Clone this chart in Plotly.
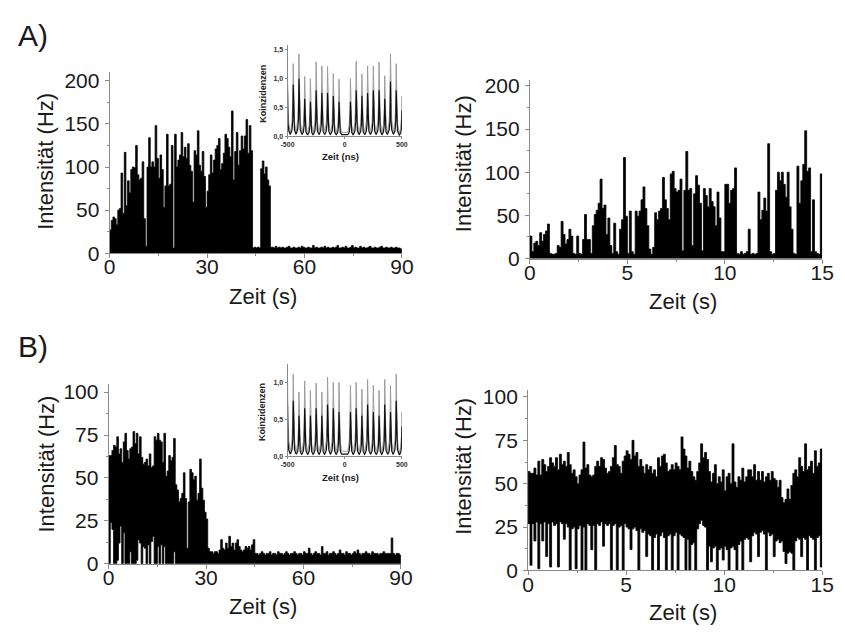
import plotly.graph_objects as go

# ---------------- data ----------------
# A) left: intensity trace, 0.5 s bins, peak value per bin (Hz)
a1_dt = 0.5
a1_peak = [27, 38, 42, 40, 33, 50, 52, 93, 46, 117,
           55, 84, 70, 97, 100, 99, 125, 91, 85, 87,
           106, 40, 8, 100, 134, 100, 106, 100, 148, 110,
           87, 114, 97, 53, 78, 138, 78, 80, 125, 6,
           138, 100, 108, 114, 140, 112, 123, 110, 127, 102,
           95, 59, 119, 114, 142, 102, 95, 118, 89, 53,
           72, 91, 114, 93, 108, 121, 125, 133, 97, 104,
           116, 138, 133, 123, 112, 165, 85, 118, 140, 102,
           119, 136, 121, 136, 155, 116, 148, 119,
           6, 7, 6, 7, 6, 98, 107, 92, 100, 85, 78, 7,
           7, 6, 8, 6, 7, 6, 7, 6, 6, 7,
           8, 6, 6, 7, 6, 6, 7, 6, 8, 7,
           6, 6, 7, 6, 6, 9, 6, 7, 6, 6,
           7, 6, 8, 6, 7, 6, 6, 7, 6, 7,
           9, 6, 6, 7, 6, 8, 6, 6, 7, 9,
           6, 7, 6, 6, 8, 6, 7, 6, 6, 7,
           8, 6, 6, 7, 6, 6, 7, 8, 6, 6,
           7, 6, 6, 7, 6, 6, 7, 6, 6, 5]

# A) right: 0.1 s bins
a2_dt = 0.1
a2_peak = [26, 8, 18, 20, 15, 30, 20, 28, 32, 40,
           6, 5, 5, 6, 15, 13, 43, 28, 17, 22,
           34, 26, 6, 5, 26, 6, 5, 22, 51, 22,
           22, 6, 38, 51, 56, 64, 92, 58, 62, 28,
           47, 15, 6, 41, 8, 5, 34, 45, 117, 49,
           6, 55, 8, 5, 55, 49, 55, 68, 83, 58,
           38, 11, 5, 13, 53, 45, 55, 58, 94, 68,
           58, 45, 98, 101, 81, 77, 79, 92, 9, 79,
           124, 79, 81, 15, 75, 96, 85, 64, 9, 81,
           73, 60, 81, 66, 60, 38, 77, 47, 8, 8,
           86, 86, 64, 79, 81, 105, 6, 5, 8, 5,
           6, 8, 34, 5, 6, 5, 6, 77, 45, 56,
           70, 55, 133, 8, 5, 6, 79, 100, 90, 100,
           86, 71, 100, 60, 34, 6, 5, 107, 64, 90,
           109, 148, 101, 105, 8, 68, 8, 6, 5, 98]

# B) left: 0.5 s bins, peak and trough per bin
b1_dt = 0.5
b1_peak = [63, 63, 66, 69, 68, 74, 64, 67, 59, 71,
           76, 66, 61, 67, 68, 77, 70, 76, 64, 74,
           62, 58, 59, 61, 57, 64, 56, 57, 74, 72,
           76, 72, 71, 59, 76, 51, 54, 63, 60, 62,
           73, 46, 43, 36, 38, 41, 53, 38, 9, 36,
           55, 53, 49, 51, 37, 41, 61, 44, 37, 30,
           26, 9,
           7, 7, 6, 7, 7, 6, 8, 14, 9, 8, 12, 9, 16, 10, 12, 8, 12, 14, 10, 8,
           7, 8, 10, 9, 10, 8, 11, 14, 6,
           6, 5, 6, 7, 6, 5, 6, 6, 7, 5,
           6, 6, 5, 7, 6, 6, 5, 6, 7, 6,
           5, 6, 6, 7, 6, 5, 6, 6, 5, 7,
           6, 6, 9, 6, 5, 6, 7, 6, 6, 5,
           10, 6, 6, 7, 5, 6, 6, 7, 6, 5,
           6, 8, 6, 6, 5, 7, 6, 6, 5, 6,
           7, 6, 8, 6, 5, 6, 6, 7, 6, 6,
           5, 7, 6, 6, 6, 5, 6, 6, 7, 6,
           6, 6, 6, 15, 6, 5, 6, 6, 5]
b1_trough = [0, 24, 20, 0, 0, 2, 12, 22, 0, 18,
             0, 0, 0, 7, 0, 0, 0, 2, 14, 12,
             0, 10, 9, 0, 11, 0, 13, 16, 0, 0,
             10, 0, 11, 0, 10, 0, 0, 0, 0, 0,
             7]

# B) right: 0.1 s bins
b2_dt = 0.1
b2_peak = [57, 56, 56, 59, 55, 63, 55, 64, 61, 57,
           60, 65, 62, 60, 65, 58, 67, 61, 63, 60,
           68, 61, 56, 58, 54, 50, 55, 58, 74, 59,
           61, 55, 54, 55, 60, 63, 60, 65, 64, 59,
           56, 57, 60, 65, 72, 61, 60, 56, 63, 66,
           69, 67, 64, 75, 66, 68, 60, 64, 60, 56,
           61, 58, 60, 56, 58, 54, 65, 60, 66, 67,
           62, 57, 58, 61, 58, 62,
           60, 58, 77, 70, 66, 59, 63, 57, 54, 52,
           57, 62, 73, 65, 68, 64, 57, 51, 56, 61,
           50, 54, 51, 58, 46, 54, 56, 50, 73, 51,
           48, 54, 52, 59, 51, 54, 58, 58, 54, 61,
           52, 57, 52, 57, 51, 54, 56, 52, 57, 53,
           52, 48, 52, 42, 39, 41, 47, 41, 49, 56,
           58, 54, 65, 60, 57, 73, 58, 60, 63, 56,
           69, 60, 62, 70]
b2_trough = [27, 3, 27, 17, 28, 1, 27, 17, 28, 8,
             27, 2, 28, 26, 27, 2, 28, 27, 18, 27,
             25, 0, 24, 25, 1, 24, 26, 0, 25, 0,
             27, 26, 12, 26, 0, 27, 26, 28, 14, 27,
             26, 27, 0, 26, 27, 0, 25, 26, 0, 27,
             25, 24, 12, 24, 25, 23, 0, 24, 22, 23,
             8, 21, 20, 0, 19, 21, 0, 20, 22, 19,
             0, 20, 21, 0, 20, 22, 0, 21, 20, 19,
             0, 18, 0, 15, 16, 0, 24, 27, 29, 26,
             25, 0, 14, 5, 13, 14, 0, 12, 13, 6,
             14, 12, 0, 13, 14, 12, 0, 15, 17, 0,
             18, 19, 18, 5, 20, 22, 21, 8, 22, 23,
             21, 0, 22, 20, 21, 8, 17, 18, 16, 17,
             11, 4, 10, 11, 10, 0, 17, 19, 18, 8,
             19, 18, 0, 20, 19, 18, 0, 19, 20, 2]

# Insets: coincidence histogram peaks (ns) and heights
ins_pos = [-500, -450, -400, -350, -300, -250, -200, -150, -100, -50,
           50, 100, 150, 200, 250, 300, 350, 400, 450, 500]
ins_a_top = [1.10, 1.26, 1.43, 1.04, 1.00, 1.29, 1.22, 1.21, 1.09, 0.99,
             1.00, 1.30, 1.08, 1.22, 1.22, 1.29, 1.05, 1.43, 1.26, 0.70]
ins_a_mid = [0.80, 0.90, 1.00, 0.65, 0.60, 0.80, 0.75, 0.75, 0.70, 0.60,
             0.60, 0.80, 0.70, 0.75, 0.80, 0.80, 0.65, 0.95, 0.80, 0.45]
ins_b_top = [1.10, 1.11, 0.87, 1.02, 0.89, 0.99, 0.87, 1.07, 1.00, 1.00,
             0.96, 1.00, 0.91, 1.04, 0.96, 0.89, 1.04, 0.96, 1.11, 0.60]
ins_b_mid = [0.70, 0.75, 0.55, 0.65, 0.55, 0.65, 0.55, 0.70, 0.65, 0.60,
             0.60, 0.65, 0.55, 0.70, 0.60, 0.55, 0.70, 0.60, 0.75, 0.40]
ins_shape_dt = [-23, -11, -4, 0, 4, 11, 23]
ins_shape_gray = [0.07, 0.2, 0.45, 1.0, 0.45, 0.2, 0.07]
ins_shape_black = [0.05, 0.12, 0.3, 1.0, 0.3, 0.12, 0.05]

FONT = "Liberation Sans, Arial, sans-serif"
AX = "#8a8a8a"
TXT = "#1a1a1a"


# ---------------- helpers ----------------
def step_traces(dt, peak, trough, xa, ya):
    """Filled step band from trough to peak for each time bin."""
    n = len(peak)
    t = [i * dt for i in range(n)] + [n * dt]
    hi = list(peak) + [peak[-1]]
    lo = [trough[i] if (trough is not None and i < len(trough)) else 0 for i in range(n)]
    lo = lo + [lo[-1]]
    common = dict(xaxis=xa, yaxis=ya, mode="lines", line_shape="hv",
                  showlegend=False, hoverinfo="skip")
    lower = go.Scatter(x=t, y=lo, line=dict(color="black", width=0.8), **common)
    upper = go.Scatter(x=t, y=hi, line=dict(color="black", width=0.8),
                       fill="tonexty", fillcolor="black", **common)
    return [lower, upper]


def peaks_line(pos, heights, shape):
    xs, ys = [], []
    for p, hgt in zip(pos, heights):
        for d, f in zip(ins_shape_dt, shape):
            xs.append(p + d)
            ys.append(hgt * f)
    return xs, ys


fig = go.Figure()
for tr in step_traces(a1_dt, a1_peak, None, "x", "y"):
    fig.add_trace(tr)
for tr in step_traces(a2_dt, a2_peak, None, "x2", "y2"):
    fig.add_trace(tr)
for tr in step_traces(b1_dt, b1_peak, b1_trough, "x3", "y3"):
    fig.add_trace(tr)
for tr in step_traces(b2_dt, b2_peak, b2_trough, "x4", "y4"):
    fig.add_trace(tr)

for xa, ya, top, mid in (("x5", "y5", ins_a_top, ins_a_mid), ("x6", "y6", ins_b_top, ins_b_mid)):
    gx, gy = peaks_line(ins_pos, top, ins_shape_gray)
    fig.add_trace(go.Scatter(x=gx, y=gy, xaxis=xa, yaxis=ya, mode="lines",
                             line=dict(color="#9c9c9c", width=1), showlegend=False, hoverinfo="skip"))
    bx, by = peaks_line(ins_pos, mid, ins_shape_black)
    fig.add_trace(go.Scatter(x=bx, y=by, xaxis=xa, yaxis=ya, mode="lines",
                             line=dict(color="#111111", width=1.2), showlegend=False, hoverinfo="skip"))


def main_axis(domain, rng, tickvals, minor_dtick, anchor, is_x):
    d = dict(domain=domain, range=rng, anchor=anchor, showgrid=False, zeroline=False,
             showline=True, linecolor=AX, linewidth=1, ticks="outside", ticklen=4,
             tickwidth=1, tickcolor=AX, tickvals=tickvals,
             tickfont=dict(family=FONT, size=21, color=TXT),
             minor=dict(ticks="outside", ticklen=2, tickcolor=AX, dtick=minor_dtick, showgrid=False))
    d["ticklabelstandoff"] = -9 if is_x else 1
    return d


def inset_axis(domain, rng, tickvals, ticktext, anchor, is_x):
    return dict(domain=domain, range=rng, anchor=anchor, showgrid=False, zeroline=False,
                showline=True, linecolor=AX, linewidth=1, ticks="outside", ticklen=2,
                tickwidth=1, tickcolor=AX, tickvals=tickvals, ticktext=ticktext,
                ticklabelstandoff=-1 if is_x else 0,
                tickfont=dict(family=FONT, size=7, color="#333333", weight="bold"))


x_time90 = [0, 30, 60, 90]
x_time15 = [0, 5, 10, 15]

fig.update_layout(
    width=845, height=635, margin=dict(l=0, r=0, t=0, b=0),
    paper_bgcolor="white", plot_bgcolor="rgba(0,0,0,0)", showlegend=False,
    xaxis=main_axis([0.1243, 0.4781], [0, 90], x_time90, 15, "y", True),
    yaxis=main_axis([0.6000, 0.8929], [0, 210], [0, 50, 100, 150, 200], 25, "x", False),
    xaxis2=main_axis([0.6331, 0.9870], [0, 15], x_time15, 2.5, "y2", True),
    yaxis2=main_axis([0.5913, 0.8803], [0, 206.8], [0, 50, 100, 150, 200], 25, "x2", False),
    xaxis3=main_axis([0.1231, 0.4769], [0, 90], x_time90, 15, "y3", True),
    yaxis3=main_axis([0.0976, 0.3885], [0, 104.8], [0, 25, 50, 75, 100], 12.5, "x3", False),
    xaxis4=main_axis([0.6308, 0.9870], [0, 15], x_time15, 2.5, "y4", True),
    yaxis4=main_axis([0.0866, 0.3780], [0, 103.8], [0, 25, 50, 75, 100], 12.5, "x4", False),
    xaxis5=inset_axis([0.3396, 0.4781], [-500, 500], [-500, 0, 500], ["-500", "0", "500"], "y5", True),
    yaxis5=inset_axis([0.7890, 0.9370], [0, 1.584], [0, 0.5, 1.0, 1.5], ["0,0", "0,5", "1,0", "1,5"], "x5", False),
    xaxis6=inset_axis([0.3396, 0.4781], [-500, 500], [-500, 0, 500], ["-500", "0", "500"], "y6", True),
    yaxis6=inset_axis([0.2713, 0.4200], [0, 1.242], [0, 0.5, 1.0], ["0,0", "0,5", "1,0"], "x6", False),
)


def px(xp, yp):
    return xp / 845.0, 1 - yp / 635.0


ann = []


def add_text(text, xp, yp, size, angle=0, bold=False, color=TXT):
    xx, yy = px(xp, yp)
    ann.append(dict(text=text, x=xx, y=yy, xref="paper", yref="paper", showarrow=False,
                    xanchor="center", yanchor="middle", textangle=angle,
                    font=dict(family=FONT, size=size, color=color, weight="bold" if bold else "normal")))


add_text("A)", 27, 30, 30)
add_text("B)", 27, 350, 30)
add_text("Intensität (Hz)", 40, 160, 22, angle=-90)
add_text("Zeit (s)", 262, 298, 22)
add_text("Intensität (Hz)", 467, 162, 22, angle=-90)
add_text("Zeit (s)", 692, 304, 22)
add_text("Intensität (Hz)", 40, 471, 22, angle=-90)
add_text("Zeit (s)", 262, 617, 22)
add_text("Intensität (Hz)", 467, 473, 22, angle=-90)
add_text("Zeit (s)", 692, 623, 22)
add_text("Koinzidenzen", 261, 90, 9, angle=-90, bold=True, color="#222222")
add_text("Zeit (ns)", 341, 155, 9.5, bold=True, color="#222222")
add_text("Koinzidenzen", 261, 417, 9, angle=-90, bold=True, color="#222222")
add_text("Zeit (ns)", 341, 484, 9.5, bold=True, color="#222222")

fig.update_layout(annotations=ann)

fig.write_html("out.html")
